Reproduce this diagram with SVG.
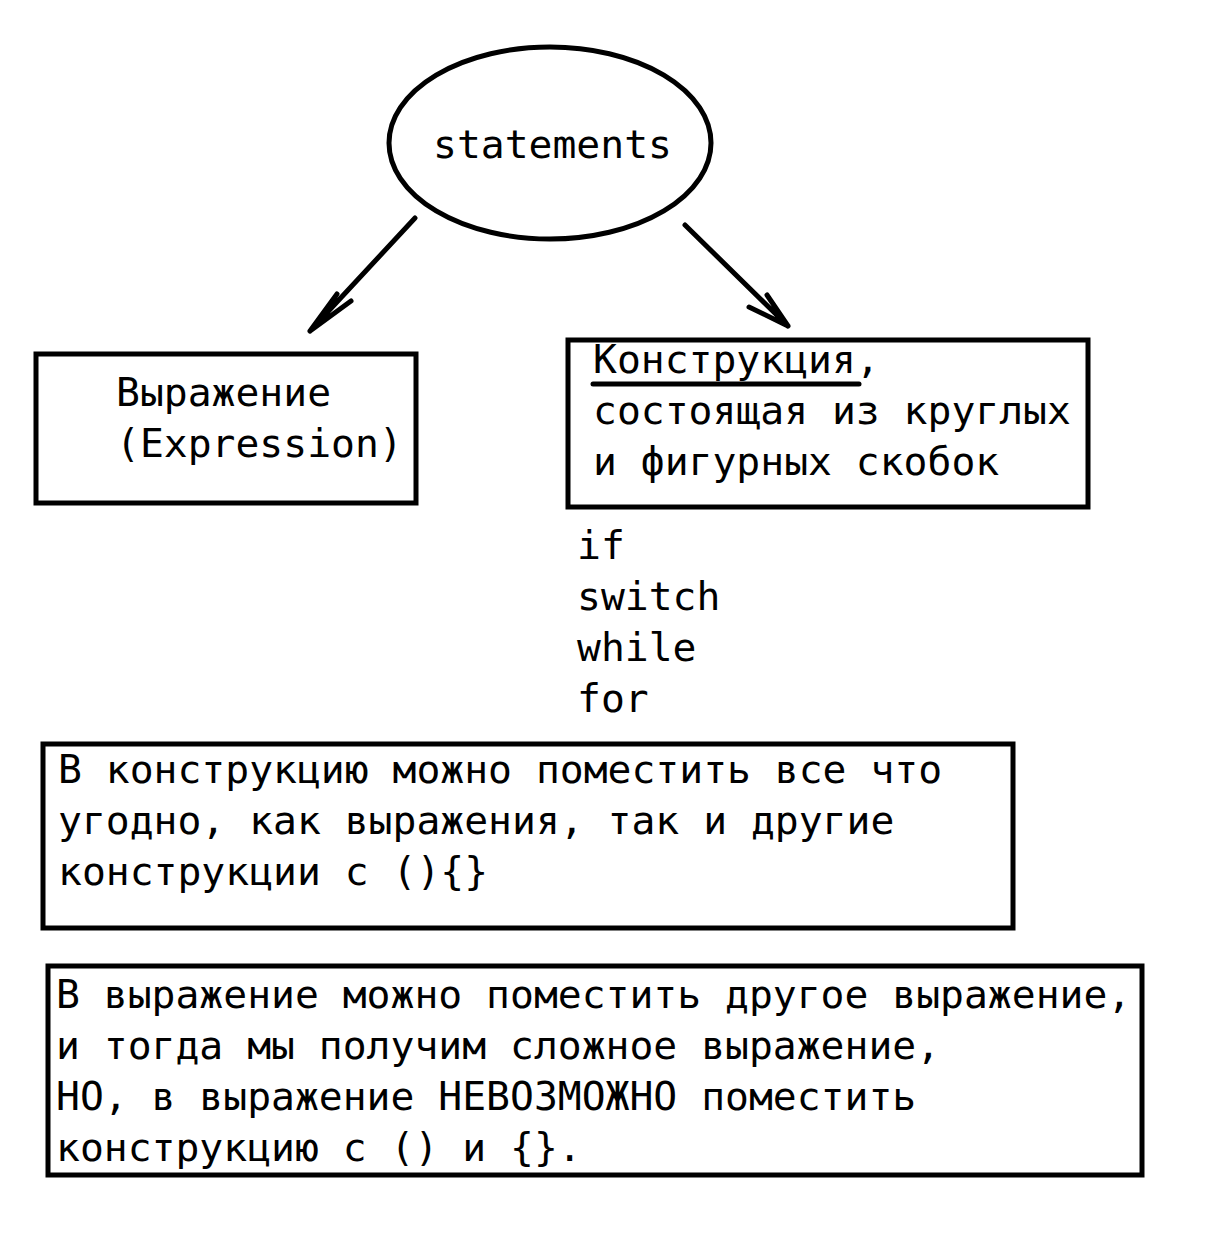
<svg xmlns="http://www.w3.org/2000/svg" width="1208" height="1256" viewBox="0 0 1208 1256">
<style>
.shape{fill:none;stroke:#000;stroke-width:5}
.line{fill:none;stroke:#000;stroke-width:5;stroke-linecap:round;stroke-linejoin:round}
text{font-family:"DejaVu Sans Mono","Liberation Mono",monospace;font-size:39.7px;fill:#000}
</style>
<rect width="1208" height="1256" fill="#fff"/>
<g id="statements">
<ellipse class="shape" cx="550" cy="143" rx="161" ry="96"/>
<text x="433" y="158">statements</text>
</g>
<g id="expression">
<rect class="shape" x="36" y="354" width="380" height="149"/>
<text x="116" y="406">Выражение</text>
<text x="116" y="457">(Expression)</text>
</g>
<g id="construction">
<rect class="shape" x="568" y="340" width="520" height="167"/>
<text x="593" y="373">Конструкция,</text>
<line class="line" x1="593" y1="384" x2="859" y2="384"/>
<text x="593" y="424">состоящая из круглых</text>
<text x="593" y="475">и фигурных скобок</text>
</g>
<g id="keywords">
<text x="577" y="559">if</text>
<text x="577" y="610">switch</text>
<text x="577" y="661">while</text>
<text x="577" y="712">for</text>
</g>
<g id="note1">
<rect class="shape" x="43" y="744" width="970" height="184"/>
<text x="58" y="783">В конструкцию можно поместить все что</text>
<text x="58" y="834">угодно, как выражения, так и другие</text>
<text x="58" y="885">конструкции с (){}</text>
</g>
<g id="note2">
<rect class="shape" x="48" y="966" width="1094" height="209"/>
<text x="56" y="1008">В выражение можно поместить другое выражение,</text>
<text x="56" y="1059">и тогда мы получим сложное выражение,</text>
<text x="56" y="1110">НО, в выражение НЕВОЗМОЖНО поместить</text>
<text x="56" y="1161">конструкцию с () и {}.</text>
</g>
<g id="connectors">
<path class="line" d="M415,218 L310,331 M310,331 L337,294 M310,331 L351,301"/>
<path class="line" d="M685,225 L788,326 M788,326 L767,295 M788,326 L749,307"/>
</g>
</svg>
